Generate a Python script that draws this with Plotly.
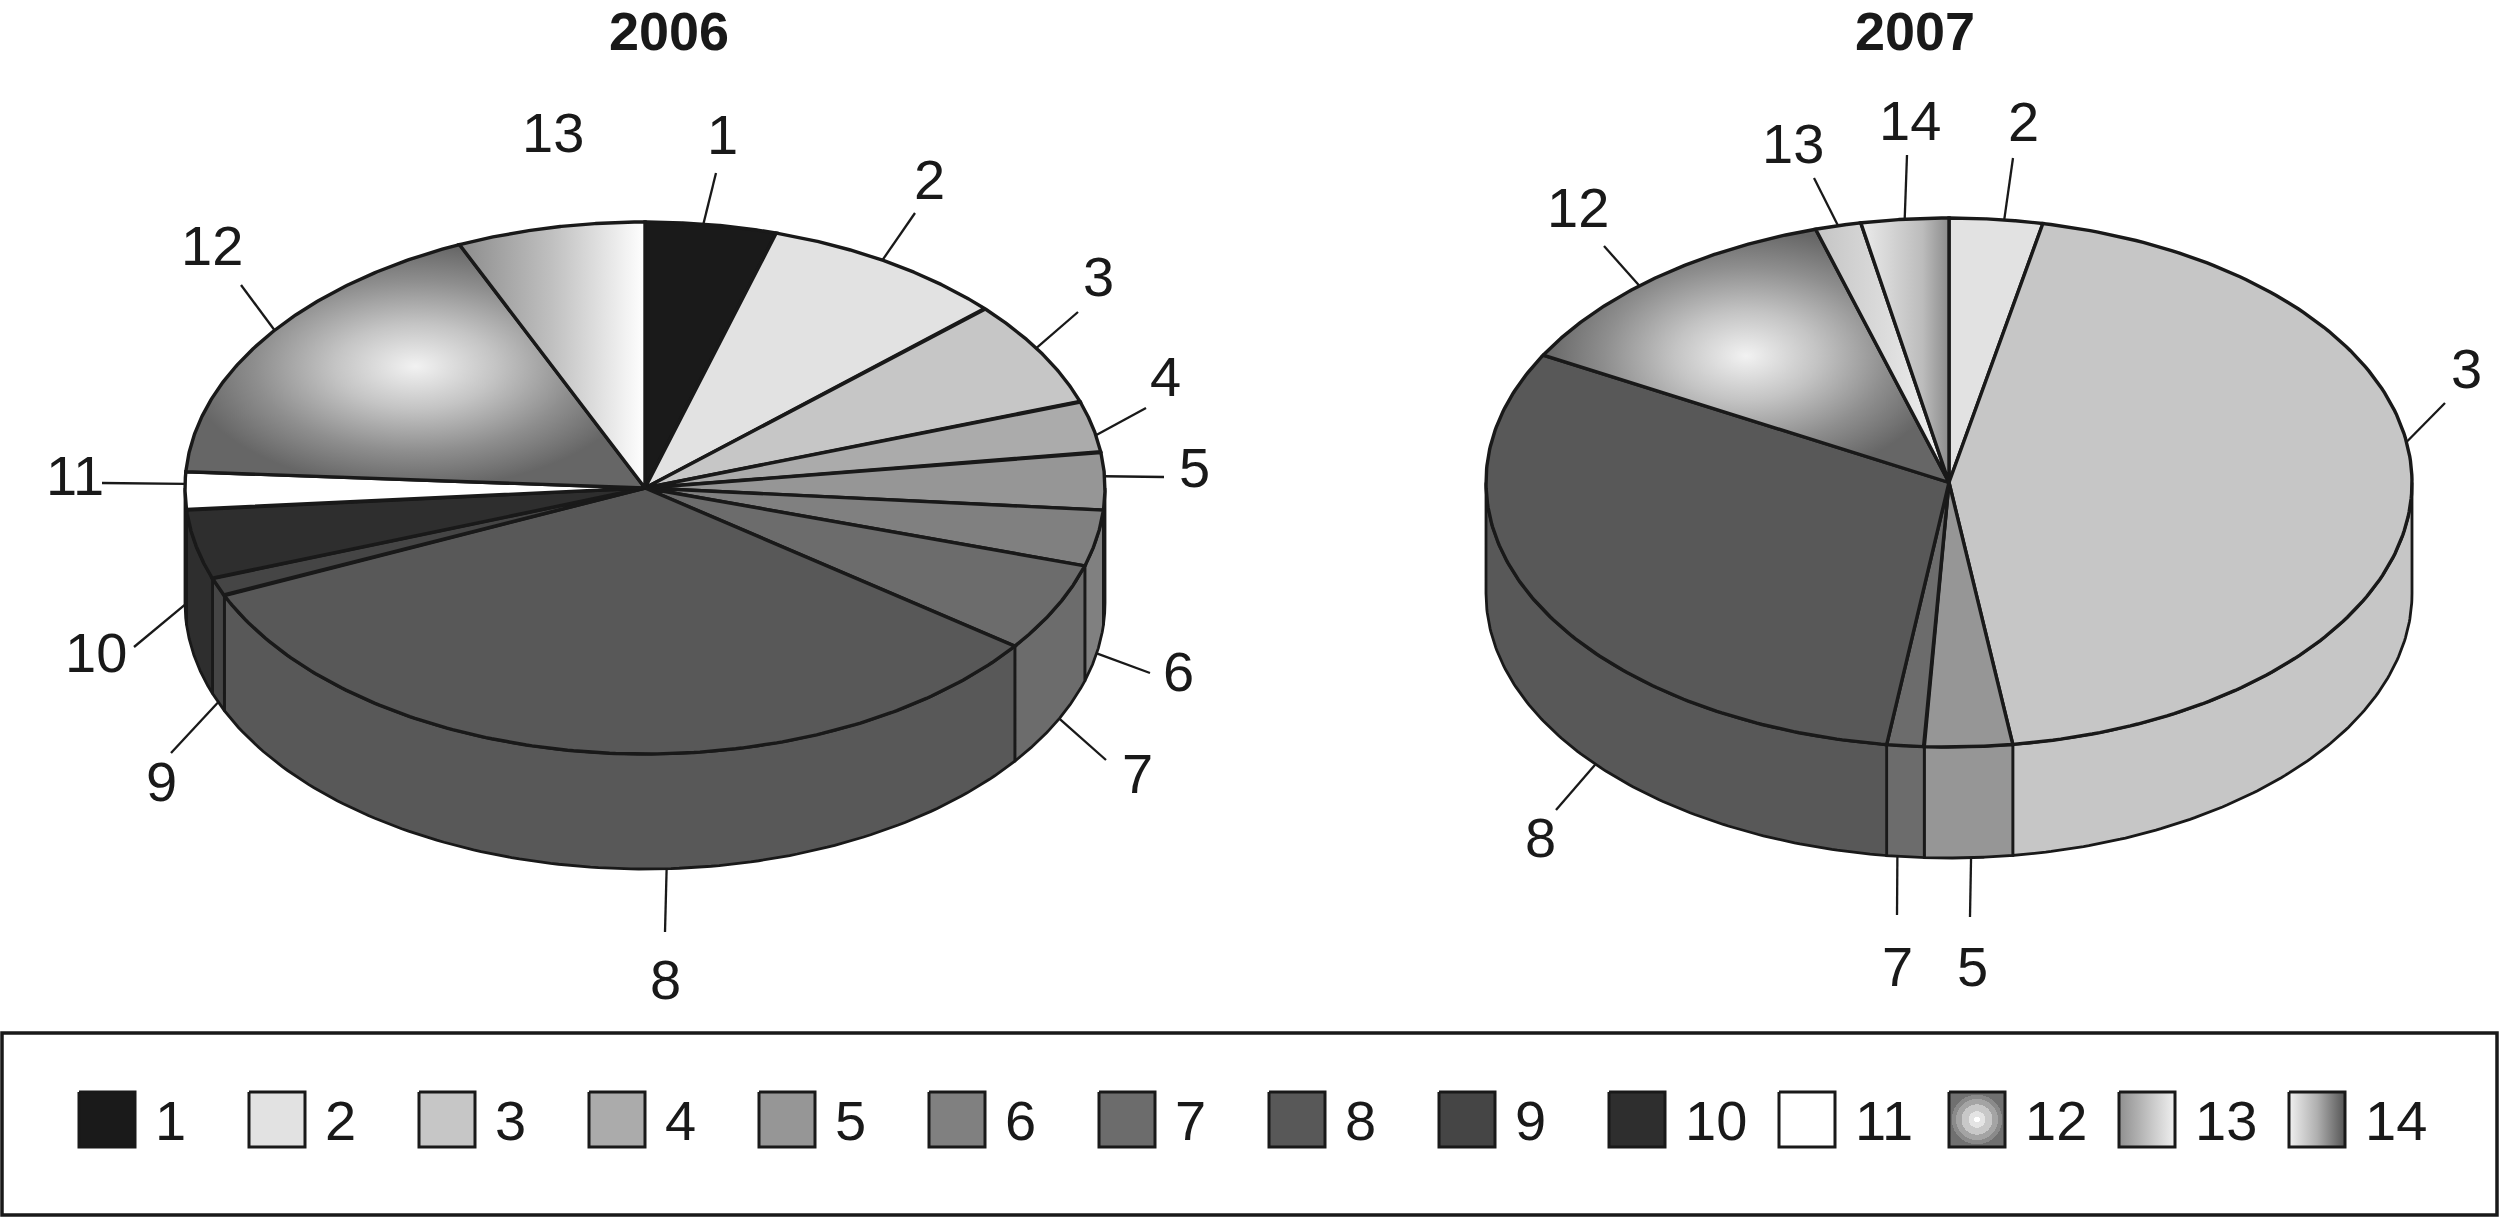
import numpy as np
import plotly.graph_objects as go

# slice shares in percent
CATEGORIES_2006 = ["1", "2", "3", "4", "5", "6", "7", "8", "9", "10", "11", "12", "13"]
SHARES_2006 = [4.6, 8.6, 6.5, 3.1, 3.5, 3.4, 5.4, 33.2, 1.1, 4.2, 2.3, 17.4, 6.6]

CATEGORIES_2007 = ["2", "3", "5", "7", "8", "12", "13", "14"]
SHARES_2007 = [3.25, 44.55, 3.05, 1.3, 30.85, 12.35, 1.6, 3.05]

LEGEND_LABELS = ["1", "2", "3", "4", "5", "6", "7", "8", "9", "10", "11", "12", "13", "14"]
TITLES = ["2006", "2007"]

FONT = "Liberation Sans"
INK = "#191919"

GREYS = {"1": "#1a1a1a", "2": "#e2e2e2", "3": "#c6c6c6", "4": "#ababab", "5": "#969696",
         "6": "#808080", "7": "#6c6c6c", "8": "#585858", "9": "#454545", "10": "#2e2e2e",
         "11": "#ffffff"}
RADIAL_12 = [[0, "#f2f2f2"], [0.35, "#c4c4c4"], [0.7, "#8e8e8e"], [1, "#666666"]]
BAR_13 = [[0, "#8c8c8c"], [0.5, "#c0c0c0"], [1, "#ffffff"]]
# the narrow 2007 slices come out paler than their legend keys
BAR_13_2007 = [[0, "#c4c4c4"], [1, "#f2f2f2"]]
BAR_14_2007 = [[0, "#ececec"], [0.7, "#bcbcbc"], [1, "#8c8c8c"]]
# banded versions for the small legend keys
RADIAL_12_KEY = [[0, "#ffffff"], [0.1, "#ffffff"], [0.1, "#e4e4e4"], [0.3, "#e4e4e4"],
                 [0.3, "#c8c8c8"], [0.55, "#c8c8c8"], [0.55, "#a4a4a4"], [0.75, "#a4a4a4"],
                 [0.75, "#8a8a8a"], [0.9, "#8a8a8a"], [0.9, "#707070"], [1, "#707070"]]
BAR_13_KEY = [[0, "#8f8f8f"], [1, "#f0f0f0"]]
BAR_14_KEY = [[0, "#f0f0f0"], [0.5, "#b0b0b0"], [1, "#555555"]]

GRADIENTS = {"12": dict(type="radial", colorscale=RADIAL_12),
             "13": dict(type="horizontal", colorscale=BAR_13)}
GRADIENTS_2007 = {"12": GRADIENTS["12"],
                  "13": dict(type="horizontal", colorscale=BAR_13_2007),
                  "14": dict(type="horizontal", colorscale=BAR_14_2007)}
GRADIENTS_KEY = {"12": dict(type="radial", colorscale=RADIAL_12_KEY),
                 "13": dict(type="horizontal", colorscale=BAR_13_KEY),
                 "14": dict(type="horizontal", colorscale=BAR_14_KEY)}

# pie geometry in page pixels: centre, radii, wall height
PIE_2006 = dict(cx=645, cy=488, rx=460, ry=266, depth=115)
PIE_2007 = dict(cx=1949, cy=482.5, rx=463, ry=264.5, depth=111)

# label: (shift from slice middle in degrees, leader end x, y, text x, y)
LABELS_2006 = {"1": (-1, 716, 173, 722, 134), "2": (-1, 915, 213, 929, 179),
               "3": (-1, 1078, 312, 1098, 276), "4": (2, 1146, 408, 1165, 376),
               "5": (-1, 1164, 477, 1194, 467), "6": (0, 1150, 673, 1178, 671),
               "7": (-1, 1106, 760, 1137, 773), "8": (-9, 665, 932, 665, 979),
               "9": (0, 171, 753, 161, 781), "10": (12, 134, 647, 96, 652),
               "11": (1.5, 102, 483, 75, 475), "12": (1.5, 241, 285, 212, 245),
               "13": None}
TEXT_ONLY_2006 = {"13": (553, 132)}
LABELS_2007 = {"2": (1, 2013, 158, 2023, 121), "3": (-10.7, 2445, 403, 2466, 368),
               "5": (-0.3, 1970, 917, 1972, 966), "7": (1, 1897, 915, 1897, 966),
               "8": (-13.5, 1556, 810, 1540, 837), "12": (-3, 1604, 246, 1578, 207),
               "13": (0, 1814, 178, 1793, 143), "14": (0, 1907, 155, 1910, 120)}


def rim(pie, theta, drop=0.0):
    """Point on the pie rim, theta in degrees clockwise from the top."""
    t = np.radians(theta)
    return pie["cx"] + pie["rx"] * np.sin(t), pie["cy"] - pie["ry"] * np.cos(t) + drop


def slice_style(label, gradients):
    style = dict(fill="toself", mode="lines", hoverinfo="skip", showlegend=False, name=label)
    if label in gradients:
        style["fillgradient"] = gradients[label]
    else:
        style["fillcolor"] = GREYS[label]
    return style


def add_pie(fig, pie, categories, shares, labels, gradients, text_only=None):
    edges = np.concatenate([[0], np.cumsum(shares)]) / np.sum(shares) * 360

    # walls first, the front half only
    for i, label in enumerate(categories):
        a, b = max(edges[i], 90), min(edges[i + 1], 270)
        if a >= b:
            continue
        th = np.linspace(a, b, 120)
        x, y = rim(pie, th)
        x2, y2 = rim(pie, th[::-1], pie["depth"])
        fig.add_trace(go.Scatter(x=np.r_[x, x2, x[0]], y=np.r_[y, y2, y[0]],
                                 line=dict(color=INK, width=2.8), **slice_style(label, gradients)))

    # then the top face
    for i, label in enumerate(categories):
        th = np.linspace(edges[i], edges[i + 1], 160)
        x, y = rim(pie, th)
        fig.add_trace(go.Scatter(x=np.r_[pie["cx"], x, pie["cx"]], y=np.r_[pie["cy"], y, pie["cy"]],
                                 line=dict(color=INK, width=3.4), **slice_style(label, gradients)))

    # leaders and numbers
    for i, label in enumerate(categories):
        spec = labels[label]
        if spec is None:
            continue
        shift, lx, ly, tx, ty = spec
        mid = (edges[i] + edges[i + 1]) / 2 + shift
        drop = pie["depth"] if 90 < mid < 270 else 0
        x0, y0 = rim(pie, mid, drop)
        fig.add_trace(go.Scatter(x=[x0, lx], y=[y0, ly], mode="lines", hoverinfo="skip",
                                 showlegend=False, line=dict(color=INK, width=2.3)))
        add_text(fig, label, tx, ty)
    for label, (tx, ty) in (text_only or {}).items():
        add_text(fig, label, tx, ty)


def add_text(fig, text, x, y, bold=False, anchor="center", size=56):
    fig.add_annotation(x=x, y=y, text="<b>%s</b>" % text if bold else text, showarrow=False,
                       xanchor=anchor, yanchor="middle", borderpad=0, borderwidth=0,
                       font=dict(family=FONT, size=size, color=INK))


fig = go.Figure()
add_pie(fig, PIE_2006, CATEGORIES_2006, SHARES_2006, LABELS_2006, GRADIENTS, TEXT_ONLY_2006)
add_pie(fig, PIE_2007, CATEGORIES_2007, SHARES_2007, LABELS_2007, GRADIENTS_2007)

add_text(fig, TITLES[0], 669, 31, bold=True, size=54)
add_text(fig, TITLES[1], 1915, 31, bold=True, size=54)

# legend frame and swatches
fig.add_shape(type="rect", x0=2, x1=2497, y0=1033, y1=1215, line=dict(color=INK, width=3.5))
for i, label in enumerate(LEGEND_LABELS):
    x0 = 79 + 170 * i
    xs = [x0, x0 + 56, x0 + 56, x0, x0]
    ys = [1092, 1092, 1147, 1147, 1092]
    fig.add_trace(go.Scatter(x=xs, y=ys, line=dict(color=INK, width=3),
                             **slice_style(label, GRADIENTS_KEY)))
    add_text(fig, label, x0 + 76, 1120, anchor="left")

fig.update_layout(
    width=2500, height=1218, autosize=False,
    margin=dict(l=0, r=0, t=0, b=0),
    paper_bgcolor="white", plot_bgcolor="white",
    showlegend=False,
)
fig.update_xaxes(range=[0, 2500], visible=False, fixedrange=True)
fig.update_yaxes(range=[1218, 0], visible=False, fixedrange=True)

fig.write_html("out.html", config=dict(displayModeBar=False),
               post_script="document.body.style.margin='0';")
